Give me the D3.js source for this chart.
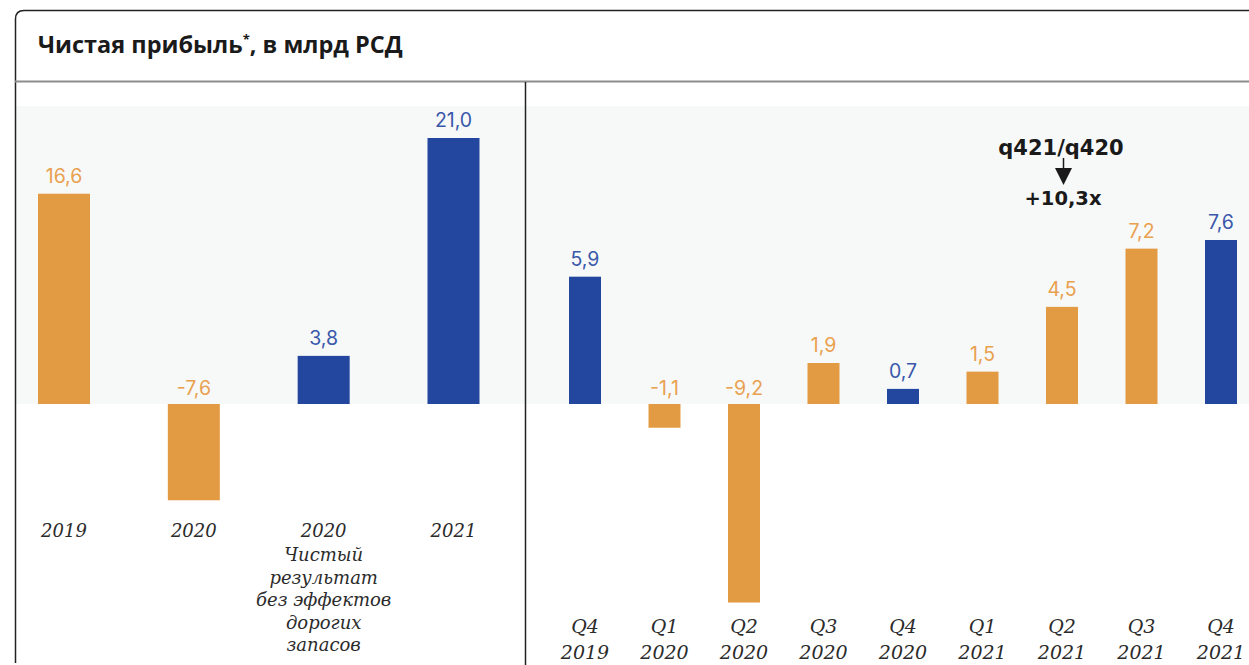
<!DOCTYPE html>
<html>
<head>
<meta charset="utf-8">
<script src="https://cdn.jsdelivr.net/npm/d3@7/dist/d3.min.js"></script>
<style>
  html, body { margin: 0; padding: 0; background: #fff; }
  svg { display: block; }
</style>
</head>
<body>
<svg id="chart" width="1249" height="665"></svg>
<script>
// ---------- DATA ----------
const title = "Чистая прибыль";
const titleRest = ", в млрд РСД";

const annualCategories = ["2019", "2020", "2020*", "2021"];
const annualValues = [16.6, -7.6, 3.8, 21.0];
const annualColors = ["orange", "orange", "blue", "blue"];
const annualLabels = [["2019"], ["2020"], ["2020", "Чистый", "результат", "без эффектов", "дорогих", "запасов"], ["2021"]];

const quarterCategories = ["Q4 2019", "Q1 2020", "Q2 2020", "Q3 2020", "Q4 2020", "Q1 2021", "Q2 2021", "Q3 2021", "Q4 2021"];
const quarterValues = [5.9, -1.1, -9.2, 1.9, 0.7, 1.5, 4.5, 7.2, 7.6];
const quarterColors = ["blue", "orange", "orange", "orange", "blue", "orange", "orange", "orange", "blue"];
const quarterLabels = [["Q4", "2019"], ["Q1", "2020"], ["Q2", "2020"], ["Q3", "2020"], ["Q4", "2020"], ["Q1", "2021"], ["Q2", "2021"], ["Q3", "2021"], ["Q4", "2021"]];

const annotationTop = "q421/q420";
const annotationBottom = "+10,3x";

// ---------- STYLE ----------
const barFill = { orange: "#E39B43", blue: "#23479F" };
const labelFill = { orange: "#E9A04F", blue: "#3A58AA" };
const fmt = v => v.toFixed(1).replace(".", ",");

const svg = d3.select("#chart");
const zeroY = 404;

// background band
svg.append("rect").attr("x", 16).attr("y", 106).attr("width", 1233).attr("height", zeroY - 106).attr("fill", "#F7F9F9");

// frame
svg.append("path")
  .attr("d", "M15.5,663 V19 Q15.5,10.5 24,10.5 H1249")
  .attr("fill", "none").attr("stroke", "#222").attr("stroke-width", 1.5);
svg.append("line").attr("x1", 15).attr("x2", 1249).attr("y1", 81.5).attr("y2", 81.5)
  .attr("stroke", "#8C8C8C").attr("stroke-width", 2);
svg.append("line").attr("x1", 525.5).attr("x2", 525.5).attr("y1", 82).attr("y2", 665)
  .attr("stroke", "#222").attr("stroke-width", 1.5);

// title
const t = svg.append("text").attr("x", 38).attr("y", 53)
  .attr("font-family", "'Open Sans', Roboto, sans-serif").attr("font-weight", 700)
  .attr("font-size", 23.5).attr("fill", "#1a1a1a");
t.append("tspan").text(title);
t.append("tspan").text("*").attr("font-size", 13).attr("dy", -9);
t.append("tspan").text(titleRest).attr("dy", 9);

// ---------- generic panel ----------
function panel(cats, vals, cols, labels, xRange, yScale, barW, catY, catLine, catSize) {
  const x = d3.scalePoint().domain(cats).range(xRange);
  const g = svg.append("g");
  g.selectAll("rect.bar").data(cats).join("rect")
    .attr("class", "bar")
    .attr("x", d => x(d) - barW / 2)
    .attr("width", barW)
    .attr("y", (d, i) => Math.min(yScale(vals[i]), yScale(0)))
    .attr("height", (d, i) => Math.abs(yScale(vals[i]) - yScale(0)))
    .attr("fill", (d, i) => barFill[cols[i]]);
  g.selectAll("text.val").data(cats).join("text")
    .attr("class", "val")
    .attr("x", d => x(d))
    .attr("y", (d, i) => vals[i] >= 0 ? yScale(vals[i]) - 11 : yScale(0) - 9)
    .attr("text-anchor", "middle")
    .attr("font-family", "Inter, 'Open Sans', sans-serif")
    .attr("font-weight", 400)
    .attr("font-size", 19.5)
    .attr("fill", (d, i) => labelFill[cols[i]])
    .text((d, i) => fmt(vals[i]));
  cats.forEach((c, i) => {
    const tx = g.append("text")
      .attr("x", x(c)).attr("y", catY)
      .attr("text-anchor", "middle")
      .attr("font-family", "'DejaVu Serif', serif")
      .attr("font-style", "italic")
      .attr("font-size", catSize)
      .attr("fill", "#2b2b2b");
    labels[i].forEach((l, j) => {
      tx.append("tspan").attr("x", x(c)).attr("dy", j === 0 ? 0 : catLine[j === 1 ? 0 : 1]).text(l);
    });
  });
  return x;
}

const yLeft = d3.scaleLinear().domain([0, 21]).range([zeroY, 138]);
panel(annualCategories, annualValues, annualColors, annualLabels, [64, 453.5], yLeft, 52, 537, [24, 22.5], 18);

const yRight = d3.scaleLinear().domain([0, 7.6]).range([zeroY, 240]);
panel(quarterCategories, quarterValues, quarterColors, quarterLabels, [585, 1221], yRight, 32, 633, [26, 26], 19);

// annotation
const ax = 1063.5;
svg.append("text").attr("x", 1061).attr("y", 155).attr("text-anchor", "middle")
  .attr("font-family", "'DejaVu Sans', sans-serif").attr("font-weight", 700)
  .attr("font-size", 21).attr("fill", "#1a1a1a").text(annotationTop);
svg.append("line").attr("x1", ax).attr("x2", ax).attr("y1", 158).attr("y2", 170)
  .attr("stroke", "#1a1a1a").attr("stroke-width", 1.5);
svg.append("path").attr("d", `M${ax - 8.5},168 L${ax + 8.5},168 L${ax},185 Z`).attr("fill", "#1a1a1a");
svg.append("text").attr("x", 1063).attr("y", 205).attr("text-anchor", "middle")
  .attr("font-family", "'DejaVu Sans', sans-serif").attr("font-weight", 700)
  .attr("font-size", 19.5).attr("fill", "#1a1a1a").text(annotationBottom);
</script>
</body>
</html>
